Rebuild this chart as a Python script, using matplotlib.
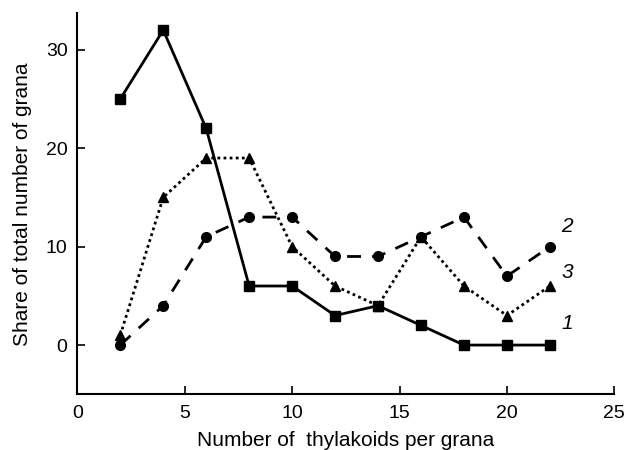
import matplotlib
matplotlib.use("Agg")
import matplotlib.pyplot as plt

plt.rcParams['font.family'] = ['Liberation Sans', 'DejaVu Sans']

# share of grana (%) vs number of thylakoids per grana
thylakoids = [2, 4, 6, 8, 10, 12, 14, 16, 18, 20, 22]
series_1 = [25, 32, 22, 6, 6, 3, 4, 2, 0, 0, 0]
series_2 = [0, 4, 11, 13, 13, 9, 9, 11, 13, 7, 10]
series_3 = [1, 15, 19, 19, 10, 6, 4, 11, 6, 3, 6]

fig = plt.figure(figsize=(6.24, 4.5), dpi=100)
ax = fig.add_axes([0.1239, 0.1238, 0.8606, 0.8466])

ax.plot(thylakoids, series_1, color='black', lw=2, ls='-', marker='s', ms=7)
ax.plot(thylakoids, series_2, color='black', lw=2, ls=(0, (5, 4)), marker='o', ms=7)
ax.plot(thylakoids, series_3, color='black', lw=2, ls=(0, (1, 1.2)), marker='^', ms=7)

# curve numbers
ax.text(22.8, 12, '2', fontsize=15, style='italic', ha='center', va='center')
ax.text(22.8, 7.4, '3', fontsize=15, style='italic', ha='center', va='center')
ax.text(22.8, 2.2, '1', fontsize=15, style='italic', ha='center', va='center')

ax.set_xlim(0, 25)
ax.set_ylim(-5, 33.7)
ax.set_xticks([0, 5, 10, 15, 20, 25])
ax.set_yticks([0, 10, 20, 30])
ax.spines['top'].set_visible(False)
ax.spines['right'].set_visible(False)
ax.spines['left'].set_linewidth(1.5)
ax.spines['bottom'].set_linewidth(1.5)
ax.tick_params(direction='in', length=6, width=1.2, labelsize=14)
ax.tick_params(axis='x', pad=8)
ax.tick_params(axis='y', pad=7)

ax.set_xlabel('Number of  thylakoids per grana', fontsize=15, labelpad=6)
ax.set_ylabel('Share of total number of grana', fontsize=15, labelpad=10)

fig.savefig('out.png', dpi=100)
